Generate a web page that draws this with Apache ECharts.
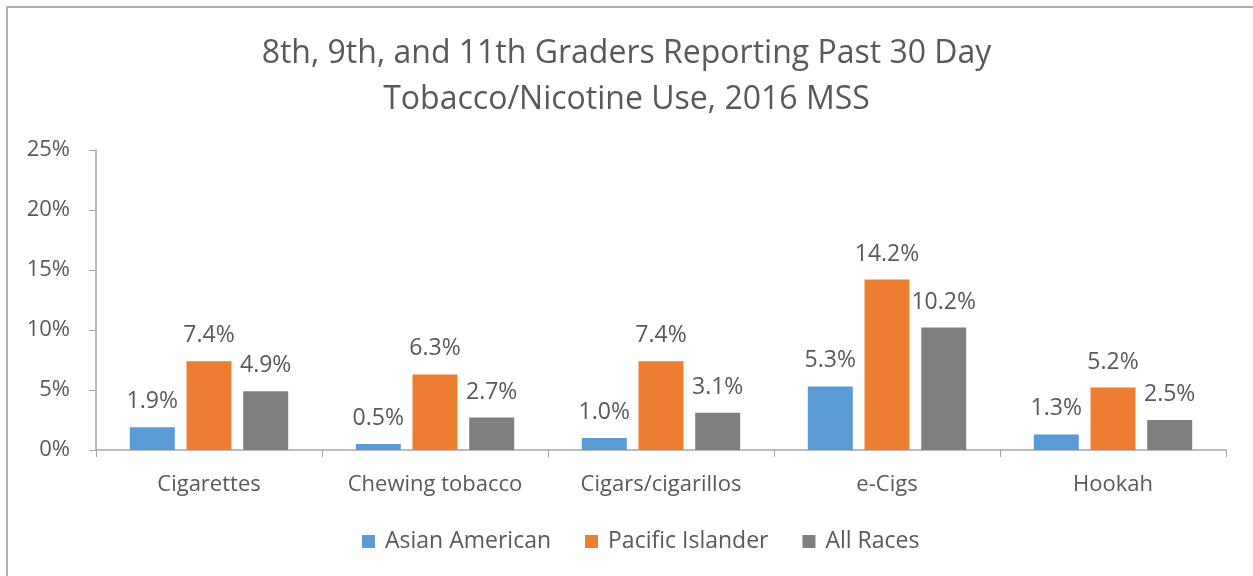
<!DOCTYPE html>
<html>
<head>
<meta charset="utf-8">
<script src="https://cdn.jsdelivr.net/npm/echarts@6/dist/echarts.min.js"></script>
<style>
  html, body { margin: 0; padding: 0; background: #fff; }
  #chart { width: 1253px; height: 576px; }
</style>
</head>
<body>
<div id="chart"></div>
<script>
const categories = ['Cigarettes', 'Chewing tobacco', 'Cigars/cigarillos', 'e-Cigs', 'Hookah']
const asianAmerican = [1.9, 0.5, 1.0, 5.3, 1.3]
const pacificIslander = [7.4, 6.3, 7.4, 14.2, 5.2]
const allRaces = [4.9, 2.7, 3.1, 10.2, 2.5]
const yTicks = [0, 5, 10, 15, 20, 25]

const font = '"Open Sans", sans-serif'
const textColor = '#595959'

const chart = echarts.init(document.getElementById('chart'))

function barSeries(name, data, color) {
  return {
    name: name,
    type: 'bar',
    data: data,
    barWidth: 45,
    barGap: '26%',
    itemStyle: { color: color },
    label: {
      show: true,
      position: 'top',
      distance: 14,
      formatter: p => p.value.toFixed(1) + '%',
      color: textColor,
      fontFamily: font,
      fontSize: 23
    }
  }
}

chart.setOption({
  animation: false,
  textStyle: { fontFamily: font },
  // outer chart border
  graphic: [{
    type: 'rect',
    shape: { x: 7, y: 7, width: 1300, height: 700 },
    style: { fill: 'none', stroke: '#b0b0b0', lineWidth: 2 },
    silent: true
  }],
  title: {
    text: '8th, 9th, and 11th Graders Reporting Past 30 Day\nTobacco/Nicotine Use, 2016 MSS',
    left: 'center',
    top: 26,
    textStyle: {
      color: textColor,
      fontFamily: font,
      fontSize: 32,
      fontWeight: 'normal',
      lineHeight: 46
    }
  },
  legend: {
    bottom: 18,
    left: 357,
    itemWidth: 13,
    itemHeight: 13,
    itemGap: 34,
    icon: 'rect',
    textStyle: { color: textColor, fontFamily: font, fontSize: 23, padding: [0, 0, 0, 5] }
  },
  grid: { left: 96, right: 27, top: 150, bottom: 126, containLabel: false },
  xAxis: {
    type: 'category',
    data: categories,
    axisLine: { lineStyle: { color: '#a6a6a6', width: 1.5 } },
    axisTick: { show: true, length: 7, lineStyle: { color: '#a6a6a6' } },
    axisLabel: { color: textColor, fontFamily: font, fontSize: 22, margin: 24, interval: 0 }
  },
  yAxis: {
    type: 'value',
    min: yTicks[0],
    max: yTicks[yTicks.length - 1],
    interval: yTicks[1] - yTicks[0],
    splitLine: { show: false },
    axisLine: { show: true, lineStyle: { color: '#a6a6a6', width: 1.5 } },
    axisTick: { show: true, length: 7, lineStyle: { color: '#a6a6a6' } },
    axisLabel: { color: textColor, fontFamily: font, fontSize: 22, margin: 26, formatter: '{value}%' }
  },
  series: [
    barSeries('Asian American', asianAmerican, '#5b9bd5'),
    barSeries('Pacific Islander', pacificIslander, '#ed7d31'),
    barSeries('All Races', allRaces, '#7f7f7f')
  ]
})
</script>
</body>
</html>
